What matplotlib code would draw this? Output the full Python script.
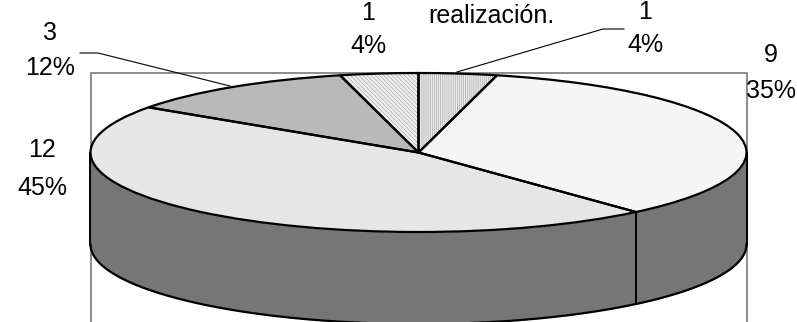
import numpy as np
import matplotlib
matplotlib.use('Agg')
import matplotlib.pyplot as plt

plt.rcParams['font.family'] = ['Liberation Sans', 'DejaVu Sans']
plt.rcParams['hatch.linewidth'] = 0.5

values = [1, 9, 12, 3, 1]
percents = ['4%', '35%', '45%', '12%', '4%']
colors = ['#ececec', '#f5f5f5', '#e6e6e6', '#b9b9b9', '#f0f0f0']
hatches = ['||||||||', None, None, None, '\\\\\\\\\\\\\\\\']
title = 'realización.'

W, H = 797, 322
cx, cy, rx, ry = 418.5, 152.5, 328, 79.5
depth = 92 / ry

fig = plt.figure(figsize=(W / 100, H / 100), dpi=100)

# capa de fondo en pixeles: marco y textos
bg = fig.add_axes([0, 0, 1, 1])
bg.set_xlim(0, W)
bg.set_ylim(H, 0)
bg.axis('off')
bg.plot([91, 91, 747, 747], [H, 73, 73, H], color='#8c8c8c', lw=1.4)

# el pastel: circulo unidad deformado por los limites del eje
ax = fig.add_axes([0, 0, 1, 1], zorder=2)
ax.patch.set_alpha(0)
wedges, _ = ax.pie(values, colors=colors, startangle=90, counterclock=False, radius=1,
                   wedgeprops={'linewidth': 0, 'edgecolor': '#a8a8a8'})
for w, h in zip(wedges, hatches):
    w.set_zorder(3)
    if h:
        w.set_hatch(h)

# contorno negro encima de las tramas
outline, _ = ax.pie(values, colors=['none'] * len(values), startangle=90, counterclock=False, radius=1,
                    wedgeprops={'linewidth': 1.6, 'edgecolor': 'black'})
for w in outline:
    w.set_zorder(4)

# lateral
t = np.linspace(np.pi, 2 * np.pi, 300)
ax.fill_between(np.cos(t), np.sin(t), np.sin(t) - depth, color='#767676', lw=0, zorder=1)
ax.plot(np.cos(t), np.sin(t) - depth, color='black', lw=1.6, zorder=2)
ax.plot([-1, -1], [0, -depth], color='black', lw=1.4, zorder=2)
ax.plot([1, 1], [0, -depth], color='black', lw=1.4, zorder=2)
ang = np.pi / 2 - 2 * np.pi * sum(values[:2]) / sum(values)
ax.plot([np.cos(ang)] * 2, [np.sin(ang), np.sin(ang) - depth], color='black', lw=1.4, zorder=2)

ax.set_aspect('auto')
ax.set_xlim(-cx / rx, (W - cx) / rx)
ax.set_ylim(-(H - cy) / ry, cy / ry)

# lineas guia
bg.plot([80, 98, 230], [53, 53, 86], color='black', lw=0.8)
bg.plot([457, 603, 624], [72, 29, 29], color='black', lw=0.8)

# etiquetas
fs = 18
bg.text(491, 16, title, fontsize=fs, ha='center', va='center')
bg.text(368, 13, str(values[4]), fontsize=fs, ha='center', va='center')
bg.text(368, 46, percents[4], fontsize=fs, ha='center', va='center')
bg.text(645, 12, str(values[0]), fontsize=fs, ha='center', va='center')
bg.text(645, 45, percents[0], fontsize=fs, ha='center', va='center')
bg.text(771, 55, str(values[1]), fontsize=fs, ha='center', va='center')
bg.text(771, 91, percents[1], fontsize=fs, ha='center', va='center')
bg.text(50, 33, str(values[3]), fontsize=fs, ha='center', va='center')
bg.text(50, 68, percents[3], fontsize=fs, ha='center', va='center')
bg.text(42, 150, str(values[2]), fontsize=fs, ha='center', va='center')
bg.text(42, 188, percents[2], fontsize=fs, ha='center', va='center')

fig.savefig('out.png', dpi=100)
